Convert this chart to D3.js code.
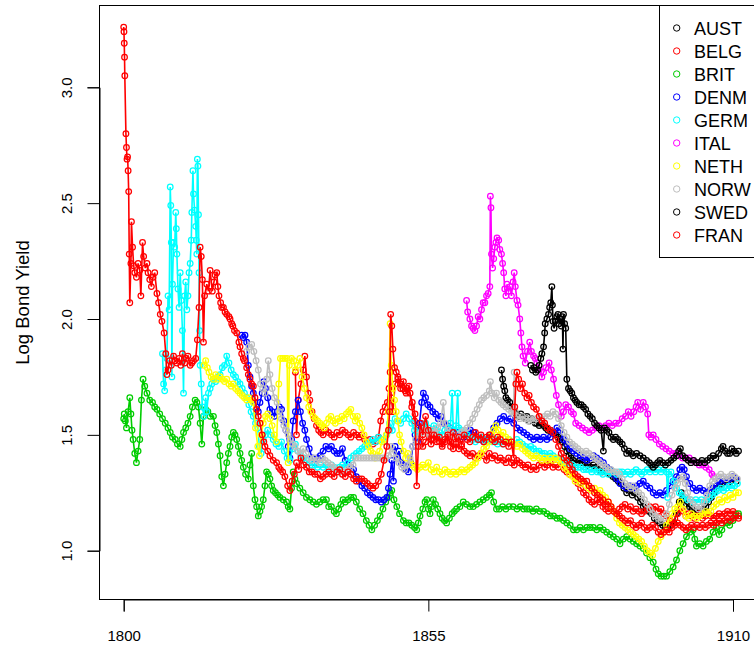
<!DOCTYPE html>
<html><head><meta charset="utf-8">
<script src="https://cdn.jsdelivr.net/npm/d3@7"></script>
<style>body{margin:0;background:#fff;} svg{display:block;font-family:"Liberation Sans",Arial,Helvetica,sans-serif;}</style>
</head><body><svg id="chart" width="754" height="645"></svg>
<script>
// ---- data: [year, log bond yield] ----
const AUST=[[1868.2,1.78],[1868.4,1.74],[1868.6,1.71],[1868.8,1.69],[1869.0,1.66],[1869.3,1.65],[1869.7,1.64],[1870.0,1.62],[1870.3,1.61],[1870.6,1.60],[1870.9,1.59],[1871.3,1.58],[1871.7,1.59],[1872.1,1.58],[1872.5,1.57],[1872.8,1.58],[1873.2,1.56],[1873.6,1.57],[1874.0,1.56],[1874.3,1.55],[1874.6,1.55],[1875.0,1.54],[1875.4,1.55],[1875.8,1.54],[1876.2,1.53],[1876.6,1.52],[1877.0,1.52],[1877.3,1.51],[1877.6,1.51],[1878.0,1.50],[1878.4,1.49],[1878.8,1.48],[1879.2,1.47],[1879.6,1.45],[1880.0,1.43],[1880.4,1.41],[1880.8,1.40],[1881.2,1.39],[1881.8,1.38],[1882.3,1.39],[1882.8,1.38],[1883.3,1.38],[1883.8,1.37],[1884.3,1.36],[1884.8,1.37],[1885.3,1.36],[1885.8,1.35],[1886.3,1.34],[1886.8,1.35],[1887.3,1.34],[1887.8,1.33],[1888.3,1.32],[1888.8,1.31],[1889.3,1.30],[1889.8,1.29],[1890.3,1.27],[1890.8,1.25],[1891.3,1.26],[1891.8,1.24],[1892.3,1.25],[1892.8,1.23],[1893.3,1.21],[1893.8,1.19],[1894.3,1.18],[1894.8,1.17],[1895.3,1.16],[1895.8,1.14],[1896.3,1.13],[1896.8,1.12],[1897.3,1.11],[1897.8,1.10],[1898.3,1.10],[1898.8,1.11],[1899.3,1.12],[1899.8,1.16],[1900.3,1.21],[1900.7,1.25],[1901.1,1.22],[1901.6,1.20],[1902.1,1.19],[1902.6,1.18],[1903.1,1.17],[1903.6,1.16],[1904.1,1.17],[1904.6,1.18],[1905.1,1.19],[1905.6,1.21],[1906.1,1.23],[1906.6,1.25],[1907.1,1.27],[1907.6,1.28],[1908.1,1.29],[1908.6,1.30],[1909.1,1.29],[1909.6,1.30],[1910.1,1.31],[1910.6,1.30]];
const BELG=[[1831.0,1.77],[1831.2,1.50],[1831.5,1.65],[1832.0,1.72],[1832.4,1.78],[1832.7,1.84],[1833.0,1.75],[1833.3,1.68],[1833.6,1.65],[1834.0,1.60],[1834.4,1.57],[1834.8,1.54],[1835.2,1.52],[1835.6,1.51],[1836.0,1.50],[1836.5,1.52],[1837.0,1.51],[1837.5,1.50],[1838.0,1.49],[1838.5,1.51],[1839.0,1.50],[1839.5,1.52],[1840.0,1.51],[1840.5,1.50],[1841.0,1.49],[1841.5,1.51],[1842.0,1.50],[1842.5,1.49],[1843.0,1.50],[1843.5,1.48],[1844.0,1.47],[1844.5,1.48],[1845.0,1.46],[1845.5,1.47],[1846.0,1.49],[1846.4,1.56],[1846.8,1.60],[1847.2,1.62],[1847.6,1.64],[1847.9,1.70],[1848.1,1.77],[1848.3,1.66],[1848.6,1.60],[1849.0,1.72],[1849.5,1.74],[1850.0,1.70],[1850.5,1.73],[1851.0,1.68],[1851.5,1.71],[1852.0,1.62],[1852.5,1.56],[1853.0,1.52],[1853.5,1.49],[1854.0,1.45],[1854.5,1.47],[1855.0,1.50],[1855.5,1.46],[1856.0,1.48],[1856.5,1.50],[1857.0,1.47],[1857.5,1.45],[1858.0,1.47],[1858.5,1.49],[1859.0,1.47],[1859.5,1.44],[1860.0,1.46],[1860.5,1.44],[1861.0,1.45],[1861.5,1.43],[1862.0,1.42],[1862.5,1.41],[1863.0,1.42],[1863.5,1.40],[1864.0,1.41],[1864.5,1.42],[1865.0,1.41],[1865.5,1.39],[1866.0,1.42],[1866.5,1.40],[1867.0,1.41],[1867.5,1.39],[1868.0,1.40],[1868.5,1.39],[1869.0,1.38],[1869.5,1.40],[1870.0,1.38],[1870.5,1.37],[1871.0,1.39],[1871.5,1.38],[1872.0,1.37],[1872.5,1.36],[1873.0,1.37],[1873.5,1.35],[1874.0,1.36],[1874.5,1.35],[1875.0,1.37],[1875.5,1.38],[1876.0,1.36],[1876.5,1.37],[1877.0,1.38],[1877.5,1.36],[1878.0,1.37],[1878.5,1.36],[1879.0,1.38],[1879.5,1.35],[1880.0,1.34],[1880.5,1.33],[1881.0,1.34],[1881.5,1.31],[1882.0,1.29],[1882.5,1.27],[1883.0,1.25],[1883.5,1.24],[1884.0,1.22],[1884.5,1.21],[1885.0,1.20],[1885.5,1.22],[1886.0,1.21],[1886.5,1.19],[1887.0,1.18],[1887.5,1.17],[1888.0,1.18],[1888.5,1.17],[1889.0,1.16],[1889.5,1.18],[1890.0,1.19],[1890.5,1.20],[1891.0,1.18],[1891.5,1.19],[1892.0,1.17],[1892.5,1.18],[1893.0,1.17],[1893.5,1.16],[1894.0,1.17],[1894.5,1.18],[1895.0,1.19],[1895.5,1.18],[1896.0,1.19],[1896.5,1.17],[1897.0,1.18],[1897.5,1.16],[1898.0,1.15],[1898.5,1.13],[1899.0,1.12],[1899.5,1.14],[1900.0,1.16],[1900.5,1.18],[1901.0,1.17],[1901.5,1.15],[1902.0,1.16],[1902.5,1.15],[1903.0,1.14],[1903.5,1.15],[1904.0,1.16],[1904.5,1.14],[1905.0,1.15],[1905.5,1.16],[1906.0,1.15],[1906.5,1.14],[1907.0,1.15],[1907.5,1.16],[1908.0,1.15],[1908.5,1.16],[1909.0,1.17],[1909.5,1.16],[1910.0,1.17],[1910.5,1.16],[1911.0,1.15]];
const BRIT=[[1800.0,1.57],[1800.1,1.59],[1800.3,1.56],[1800.5,1.53],[1800.8,1.60],[1801.1,1.66],[1801.3,1.59],[1801.5,1.52],[1801.7,1.48],[1802.0,1.42],[1802.3,1.38],[1802.6,1.43],[1802.9,1.48],[1803.2,1.65],[1803.5,1.74],[1803.8,1.71],[1804.2,1.68],[1804.7,1.65],[1805.2,1.64],[1805.6,1.62],[1806.0,1.61],[1806.5,1.59],[1807.0,1.57],[1807.5,1.55],[1808.0,1.53],[1808.4,1.51],[1808.8,1.49],[1809.3,1.48],[1809.7,1.46],[1810.2,1.45],[1810.5,1.48],[1810.8,1.51],[1811.2,1.53],[1811.6,1.55],[1812.0,1.58],[1812.4,1.62],[1812.9,1.65],[1813.2,1.64],[1813.5,1.62],[1813.8,1.55],[1814.1,1.46],[1814.4,1.58],[1814.8,1.61],[1815.2,1.60],[1815.6,1.58],[1816.2,1.58],[1816.5,1.54],[1816.8,1.51],[1817.1,1.46],[1817.4,1.41],[1817.7,1.32],[1818.0,1.28],[1818.3,1.33],[1818.6,1.38],[1818.9,1.42],[1819.2,1.45],[1819.5,1.49],[1819.8,1.51],[1820.1,1.50],[1820.4,1.48],[1820.7,1.45],[1821.0,1.42],[1821.3,1.39],[1821.6,1.36],[1822.0,1.33],[1822.5,1.31],[1822.8,1.37],[1823.1,1.42],[1823.4,1.28],[1823.7,1.22],[1824.0,1.19],[1824.3,1.15],[1824.6,1.17],[1824.9,1.19],[1825.2,1.22],[1825.5,1.28],[1825.8,1.34],[1826.1,1.33],[1826.4,1.31],[1826.7,1.28],[1827.0,1.26],[1827.4,1.25],[1827.8,1.24],[1828.2,1.23],[1828.8,1.22],[1829.4,1.21],[1829.7,1.19],[1830.0,1.18],[1830.3,1.27],[1830.6,1.34],[1830.9,1.31],[1831.2,1.29],[1831.8,1.27],[1832.4,1.25],[1833.0,1.23],[1833.6,1.22],[1834.2,1.21],[1834.8,1.20],[1835.4,1.21],[1836.0,1.22],[1836.6,1.22],[1837.0,1.19],[1837.5,1.19],[1838.0,1.17],[1838.4,1.16],[1838.8,1.18],[1839.2,1.20],[1839.6,1.22],[1840.0,1.21],[1840.5,1.22],[1841.0,1.23],[1841.5,1.23],[1842.0,1.21],[1842.6,1.18],[1843.2,1.16],[1843.8,1.13],[1844.3,1.11],[1844.8,1.09],[1845.3,1.11],[1845.8,1.13],[1846.3,1.15],[1846.8,1.18],[1847.3,1.21],[1847.8,1.23],[1848.1,1.25],[1848.4,1.26],[1848.8,1.22],[1849.3,1.19],[1849.8,1.16],[1850.5,1.13],[1851.0,1.12],[1851.5,1.12],[1852.0,1.11],[1852.5,1.10],[1852.9,1.09],[1853.2,1.12],[1853.5,1.15],[1854.0,1.18],[1854.4,1.21],[1854.7,1.22],[1855.0,1.18],[1855.3,1.16],[1855.6,1.19],[1855.9,1.22],[1856.3,1.20],[1856.7,1.18],[1857.1,1.16],[1857.5,1.14],[1857.9,1.13],[1858.3,1.12],[1858.8,1.14],[1859.3,1.16],[1859.7,1.17],[1860.1,1.18],[1860.7,1.19],[1861.3,1.21],[1861.9,1.20],[1862.5,1.19],[1863.1,1.19],[1863.7,1.20],[1864.3,1.21],[1864.9,1.22],[1865.5,1.23],[1866.0,1.24],[1866.4,1.25],[1866.8,1.21],[1867.3,1.18],[1867.8,1.18],[1868.4,1.19],[1869.0,1.18],[1869.6,1.19],[1870.3,1.19],[1871.0,1.18],[1871.6,1.19],[1872.2,1.18],[1872.8,1.18],[1873.3,1.18],[1873.9,1.17],[1874.5,1.18],[1875.1,1.17],[1875.8,1.17],[1876.4,1.16],[1877.0,1.15],[1877.6,1.15],[1878.2,1.14],[1878.8,1.14],[1879.4,1.13],[1880.0,1.12],[1880.6,1.11],[1881.2,1.09],[1881.8,1.09],[1882.4,1.10],[1883.0,1.09],[1883.6,1.10],[1884.2,1.10],[1884.8,1.10],[1885.4,1.09],[1886.0,1.10],[1886.6,1.09],[1887.2,1.08],[1887.8,1.07],[1888.4,1.06],[1889.0,1.05],[1889.6,1.03],[1890.2,1.05],[1890.8,1.06],[1891.4,1.05],[1892.0,1.04],[1892.6,1.03],[1893.2,1.02],[1893.8,1.01],[1894.4,0.99],[1895.0,0.97],[1895.6,0.95],[1896.1,0.92],[1896.5,0.90],[1897.0,0.89],[1897.5,0.89],[1898.0,0.89],[1898.6,0.91],[1899.2,0.93],[1899.8,0.96],[1900.4,1.00],[1901.0,1.03],[1901.6,1.06],[1902.2,1.08],[1902.8,1.09],[1903.1,1.05],[1903.4,1.02],[1904.0,1.03],[1904.6,1.02],[1905.2,1.04],[1905.8,1.05],[1906.4,1.08],[1907.0,1.10],[1907.5,1.07],[1908.0,1.09],[1908.8,1.12],[1909.4,1.11],[1910.0,1.13],[1910.5,1.15],[1911.0,1.16]];
const DENM=[[1821.3,1.93],[1821.6,1.92],[1821.9,1.93],[1822.2,1.90],[1822.5,1.80],[1822.8,1.75],[1823.1,1.71],[1823.4,1.68],[1823.7,1.64],[1824.0,1.62],[1824.3,1.60],[1824.6,1.64],[1825.0,1.68],[1825.3,1.73],[1825.6,1.70],[1826.0,1.66],[1826.4,1.61],[1826.8,1.60],[1827.2,1.58],[1827.7,1.60],[1828.1,1.62],[1828.5,1.61],[1828.9,1.56],[1829.3,1.52],[1829.7,1.45],[1830.0,1.40],[1830.3,1.48],[1830.6,1.56],[1831.0,1.60],[1831.5,1.65],[1831.9,1.60],[1832.3,1.55],[1832.7,1.52],[1833.0,1.48],[1833.5,1.44],[1834.0,1.40],[1834.5,1.38],[1835.0,1.40],[1835.5,1.41],[1836.0,1.43],[1836.5,1.45],[1837.0,1.44],[1837.5,1.45],[1838.0,1.43],[1838.5,1.42],[1839.0,1.42],[1839.5,1.44],[1840.0,1.39],[1840.5,1.37],[1841.0,1.36],[1841.5,1.35],[1842.0,1.32],[1842.5,1.30],[1843.0,1.28],[1843.5,1.27],[1844.0,1.25],[1844.5,1.24],[1845.0,1.23],[1845.5,1.22],[1846.0,1.22],[1846.5,1.21],[1847.0,1.22],[1847.5,1.23],[1847.8,1.27],[1848.1,1.33],[1848.4,1.39],[1848.7,1.30],[1849.0,1.45],[1849.3,1.40],[1849.7,1.43],[1850.1,1.38],[1850.5,1.37],[1851.0,1.35],[1851.4,1.34],[1851.8,1.38],[1852.2,1.45],[1852.6,1.50],[1853.0,1.47],[1853.4,1.55],[1853.8,1.64],[1854.1,1.68],[1854.5,1.66],[1854.9,1.63],[1855.3,1.62],[1855.8,1.60],[1856.3,1.59],[1856.8,1.57],[1857.3,1.58],[1857.8,1.55],[1858.4,1.54],[1859.0,1.53],[1859.6,1.52],[1860.2,1.51],[1860.8,1.50],[1861.4,1.49],[1862.0,1.50],[1862.6,1.52],[1863.2,1.51],[1863.8,1.49],[1864.4,1.48],[1865.0,1.47],[1865.6,1.48],[1866.2,1.50],[1866.8,1.53],[1867.4,1.55],[1868.0,1.57],[1868.6,1.58],[1869.2,1.56],[1869.8,1.57],[1870.4,1.55],[1871.0,1.53],[1871.6,1.52],[1872.2,1.51],[1872.8,1.50],[1873.4,1.49],[1874.0,1.48],[1874.6,1.49],[1875.2,1.48],[1875.8,1.49],[1876.4,1.48],[1877.0,1.49],[1877.6,1.51],[1878.2,1.53],[1878.8,1.52],[1879.4,1.48],[1880.0,1.46],[1880.6,1.44],[1881.2,1.43],[1881.8,1.42],[1882.4,1.41],[1883.0,1.40],[1883.6,1.39],[1884.2,1.40],[1884.8,1.41],[1885.4,1.40],[1886.0,1.39],[1886.6,1.38],[1887.2,1.36],[1887.8,1.35],[1888.4,1.33],[1889.0,1.31],[1889.6,1.29],[1890.2,1.28],[1890.8,1.27],[1891.4,1.28],[1892.0,1.27],[1892.6,1.28],[1893.2,1.29],[1893.8,1.30],[1894.4,1.28],[1895.0,1.27],[1895.6,1.25],[1896.2,1.24],[1896.8,1.25],[1897.4,1.24],[1898.0,1.26],[1898.6,1.28],[1899.2,1.30],[1899.8,1.32],[1900.4,1.35],[1900.8,1.36],[1901.2,1.35],[1901.6,1.32],[1902.2,1.29],[1902.8,1.27],[1903.4,1.26],[1904.0,1.27],[1904.6,1.26],[1905.2,1.25],[1905.8,1.26],[1906.4,1.27],[1907.0,1.28],[1907.6,1.30],[1908.2,1.31],[1908.8,1.30],[1909.4,1.31],[1910.0,1.32],[1910.6,1.31]];
const GERM=[[1807.0,1.85],[1807.2,1.72],[1807.4,1.69],[1807.6,1.78],[1807.8,1.83],[1808.0,2.10],[1808.2,2.04],[1808.4,2.57],[1808.5,2.49],[1808.6,2.33],[1808.7,1.75],[1808.8,2.15],[1809.0,2.33],[1809.2,2.31],[1809.4,2.46],[1809.5,2.39],[1809.6,2.28],[1809.8,2.13],[1810.0,2.05],[1810.2,2.20],[1810.4,2.08],[1810.6,1.95],[1810.8,1.68],[1811.0,2.10],[1811.2,2.16],[1811.4,2.04],[1811.6,2.10],[1811.8,2.20],[1812.0,2.24],[1812.2,2.34],[1812.3,2.46],[1812.5,2.64],[1812.6,2.54],[1812.8,2.47],[1813.0,2.40],[1813.1,2.34],[1813.2,2.28],[1813.3,2.69],[1813.4,2.66],[1813.5,2.45],[1813.6,2.20],[1813.7,1.95],[1813.8,1.80],[1814.0,1.72],[1814.2,1.62],[1814.5,1.58],[1814.8,1.66],[1815.0,1.60],[1815.3,1.68],[1815.6,1.70],[1815.9,1.72],[1816.2,1.74],[1816.6,1.73],[1817.0,1.75],[1817.4,1.76],[1817.8,1.79],[1818.2,1.80],[1818.6,1.84],[1819.0,1.81],[1819.4,1.78],[1819.8,1.76],[1820.2,1.75],[1820.6,1.73],[1821.0,1.72],[1821.4,1.70],[1821.8,1.68],[1822.2,1.66],[1822.6,1.63],[1823.0,1.60],[1823.4,1.58],[1823.8,1.55],[1824.2,1.53],[1824.5,1.45],[1824.8,1.42],[1825.2,1.48],[1825.6,1.50],[1826.0,1.52],[1826.5,1.50],[1827.0,1.48],[1827.5,1.46],[1828.0,1.45],[1828.5,1.47],[1829.0,1.43],[1829.5,1.40],[1830.0,1.39],[1830.5,1.44],[1831.0,1.46],[1831.5,1.43],[1832.0,1.41],[1832.5,1.40],[1833.0,1.39],[1833.5,1.38],[1834.0,1.37],[1834.5,1.37],[1835.0,1.36],[1835.5,1.37],[1836.0,1.36],[1836.5,1.37],[1837.0,1.36],[1837.5,1.37],[1838.0,1.36],[1838.5,1.35],[1839.0,1.36],[1839.5,1.37],[1840.0,1.36],[1840.5,1.38],[1841.0,1.40],[1841.5,1.41],[1842.0,1.42],[1842.5,1.43],[1843.0,1.44],[1843.5,1.45],[1844.0,1.46],[1844.5,1.47],[1845.0,1.48],[1845.5,1.47],[1846.0,1.49],[1846.5,1.48],[1847.0,1.47],[1847.5,1.50],[1848.0,1.55],[1848.5,1.52],[1849.0,1.57],[1849.5,1.56],[1850.0,1.55],[1850.5,1.57],[1851.0,1.59],[1851.5,1.57],[1852.0,1.55],[1852.5,1.52],[1853.0,1.50],[1853.5,1.51],[1854.0,1.53],[1854.5,1.55],[1855.0,1.53],[1855.5,1.52],[1856.0,1.54],[1856.5,1.52],[1857.0,1.51],[1857.5,1.50],[1858.0,1.52],[1858.5,1.53],[1859.0,1.55],[1859.3,1.68],[1859.5,1.52],[1860.0,1.54],[1860.3,1.68],[1860.5,1.53],[1861.0,1.52],[1861.5,1.51],[1862.0,1.50],[1862.5,1.49],[1863.0,1.48],[1863.5,1.47],[1864.0,1.48],[1864.5,1.49],[1865.0,1.48],[1865.5,1.47],[1866.0,1.48],[1866.5,1.47],[1867.0,1.48],[1867.5,1.46],[1868.0,1.47],[1868.5,1.46],[1869.0,1.47],[1869.5,1.48],[1870.0,1.47],[1870.5,1.46],[1871.0,1.48],[1871.5,1.47],[1872.0,1.46],[1872.5,1.45],[1873.0,1.44],[1873.5,1.45],[1874.0,1.44],[1874.5,1.43],[1875.0,1.43],[1875.5,1.42],[1876.0,1.42],[1876.5,1.41],[1877.0,1.42],[1877.5,1.41],[1878.0,1.40],[1878.5,1.40],[1879.0,1.39],[1879.5,1.38],[1880.0,1.38],[1880.5,1.37],[1881.0,1.37],[1881.5,1.36],[1882.0,1.36],[1882.5,1.36],[1883.0,1.35],[1883.5,1.35],[1884.0,1.35],[1884.5,1.34],[1885.0,1.35],[1885.5,1.34],[1886.0,1.34],[1886.5,1.33],[1887.0,1.34],[1887.5,1.33],[1888.0,1.34],[1888.5,1.34],[1889.0,1.33],[1889.5,1.34],[1890.0,1.34],[1890.5,1.33],[1891.0,1.34],[1891.5,1.33],[1892.0,1.34],[1892.5,1.35],[1893.0,1.34],[1893.5,1.33],[1894.0,1.34],[1894.5,1.35],[1895.0,1.34],[1895.5,1.35],[1896.0,1.34],[1896.5,1.35],[1897.0,1.34],[1897.5,1.35],[1898.0,1.34],[1898.2,1.23],[1898.4,1.33],[1898.8,1.34],[1899.3,1.30],[1899.8,1.27],[1900.3,1.25],[1900.8,1.24],[1901.3,1.23],[1901.8,1.22],[1902.3,1.22],[1902.8,1.21],[1903.3,1.22],[1903.8,1.21],[1904.3,1.22],[1904.8,1.21],[1905.3,1.22],[1905.8,1.23],[1906.3,1.24],[1906.8,1.25],[1907.3,1.26],[1907.8,1.27],[1908.3,1.26],[1908.8,1.27],[1909.3,1.28],[1909.8,1.27],[1910.3,1.28],[1910.8,1.29]];
const ITAL=[[1861.9,2.08],[1862.1,2.03],[1862.5,2.00],[1862.8,1.97],[1863.1,1.96],[1863.4,1.95],[1863.7,1.97],[1864.0,2.01],[1864.3,2.00],[1864.6,2.04],[1864.9,2.07],[1865.2,2.07],[1865.5,2.10],[1865.8,2.11],[1866.1,2.14],[1866.2,2.53],[1866.3,2.48],[1866.4,2.28],[1866.6,2.22],[1866.8,2.26],[1867.0,2.31],[1867.2,2.33],[1867.4,2.35],[1867.7,2.34],[1867.9,2.30],[1868.2,2.28],[1868.4,2.24],[1868.6,2.20],[1868.8,2.13],[1869.0,2.10],[1869.2,2.15],[1869.5,2.12],[1869.8,2.14],[1870.0,2.10],[1870.3,2.16],[1870.5,2.20],[1870.7,2.14],[1871.0,2.08],[1871.2,2.06],[1871.5,2.00],[1871.7,1.94],[1871.9,1.88],[1872.1,1.84],[1872.5,1.81],[1872.9,1.86],[1873.3,1.90],[1873.6,1.86],[1874.0,1.84],[1874.3,1.83],[1874.6,1.81],[1875.0,1.78],[1875.5,1.75],[1875.8,1.77],[1876.2,1.79],[1876.8,1.81],[1877.2,1.78],[1877.6,1.74],[1878.1,1.67],[1878.5,1.63],[1879.0,1.58],[1879.4,1.60],[1879.8,1.63],[1880.3,1.62],[1880.8,1.60],[1881.2,1.59],[1881.6,1.55],[1882.2,1.54],[1882.8,1.53],[1883.4,1.52],[1884.0,1.51],[1884.6,1.52],[1885.2,1.53],[1885.8,1.54],[1886.4,1.53],[1887.0,1.54],[1887.6,1.55],[1888.2,1.54],[1888.8,1.55],[1889.4,1.55],[1890.0,1.57],[1890.6,1.58],[1891.1,1.60],[1891.6,1.58],[1892.1,1.60],[1892.5,1.62],[1892.8,1.64],[1893.3,1.61],[1893.8,1.64],[1894.2,1.62],[1894.6,1.59],[1894.8,1.50],[1895.2,1.49],[1895.6,1.50],[1896.1,1.48],[1896.7,1.46],[1897.3,1.45],[1897.9,1.44],[1898.5,1.43],[1899.1,1.42],[1899.7,1.42],[1900.3,1.41],[1900.9,1.40],[1901.5,1.40],[1902.1,1.40],[1902.7,1.39],[1903.3,1.38],[1903.9,1.37],[1904.5,1.37],[1905.1,1.36],[1905.7,1.35],[1906.2,1.33],[1906.5,1.32]];
const NETH=[[1814.5,1.80],[1814.8,1.82],[1815.1,1.79],[1815.4,1.77],[1815.8,1.75],[1816.2,1.74],[1816.6,1.76],[1817.0,1.74],[1817.4,1.75],[1817.8,1.74],[1818.2,1.73],[1818.6,1.74],[1819.0,1.72],[1819.4,1.71],[1819.8,1.72],[1820.2,1.70],[1820.6,1.69],[1821.0,1.68],[1821.4,1.67],[1821.8,1.66],[1822.2,1.65],[1822.6,1.66],[1823.0,1.65],[1823.4,1.64],[1823.8,1.53],[1824.2,1.45],[1824.5,1.41],[1824.8,1.50],[1825.2,1.55],[1825.6,1.58],[1826.0,1.59],[1826.4,1.57],[1826.8,1.54],[1827.2,1.50],[1827.6,1.47],[1828.0,1.72],[1828.3,1.83],[1828.7,1.83],[1829.1,1.83],[1829.5,1.83],[1829.7,1.38],[1829.9,1.80],[1830.3,1.83],[1830.7,1.82],[1831.0,1.78],[1831.4,1.80],[1831.8,1.83],[1832.2,1.75],[1832.6,1.70],[1833.0,1.66],[1833.4,1.62],[1833.8,1.60],[1834.2,1.58],[1834.6,1.57],[1835.0,1.56],[1835.4,1.55],[1835.8,1.54],[1836.2,1.53],[1836.6,1.55],[1837.0,1.57],[1837.4,1.58],[1837.8,1.56],[1838.2,1.55],[1838.6,1.57],[1839.0,1.56],[1839.4,1.58],[1839.8,1.57],[1840.2,1.59],[1840.6,1.60],[1841.0,1.61],[1841.4,1.58],[1841.8,1.56],[1842.2,1.58],[1842.6,1.55],[1843.0,1.53],[1843.4,1.50],[1843.8,1.47],[1844.2,1.45],[1844.6,1.43],[1845.0,1.42],[1845.4,1.40],[1845.8,1.41],[1846.2,1.43],[1846.6,1.47],[1847.0,1.48],[1847.4,1.50],[1847.8,1.60],[1848.1,1.98],[1848.3,1.80],[1848.6,1.70],[1848.9,1.65],[1849.2,1.60],[1849.5,1.56],[1849.8,1.50],[1850.1,1.47],[1850.5,1.43],[1850.9,1.40],[1851.3,1.42],[1851.7,1.39],[1852.1,1.37],[1852.5,1.36],[1853.0,1.35],[1853.5,1.36],[1854.0,1.37],[1854.5,1.36],[1855.0,1.38],[1855.5,1.35],[1856.0,1.34],[1856.5,1.36],[1857.0,1.34],[1857.5,1.33],[1858.0,1.35],[1858.5,1.34],[1859.0,1.33],[1859.5,1.34],[1860.0,1.33],[1860.5,1.34],[1861.0,1.35],[1861.5,1.34],[1862.0,1.35],[1862.5,1.36],[1863.0,1.37],[1863.5,1.38],[1864.0,1.40],[1864.5,1.42],[1865.0,1.44],[1865.5,1.45],[1866.0,1.47],[1866.4,1.50],[1866.8,1.52],[1867.2,1.54],[1867.6,1.52],[1868.0,1.50],[1868.5,1.51],[1869.0,1.49],[1869.5,1.48],[1870.0,1.47],[1870.5,1.46],[1871.0,1.45],[1871.5,1.46],[1872.0,1.44],[1872.5,1.43],[1873.0,1.42],[1873.5,1.41],[1874.0,1.40],[1874.5,1.41],[1875.0,1.40],[1875.5,1.39],[1876.0,1.40],[1876.5,1.39],[1877.0,1.40],[1877.5,1.39],[1878.0,1.40],[1878.5,1.39],[1879.0,1.38],[1879.5,1.36],[1880.0,1.35],[1880.5,1.33],[1881.0,1.32],[1881.5,1.30],[1882.0,1.31],[1882.5,1.29],[1883.0,1.30],[1883.5,1.28],[1884.0,1.27],[1884.5,1.26],[1885.0,1.27],[1885.5,1.25],[1886.0,1.26],[1886.5,1.24],[1887.0,1.23],[1887.5,1.21],[1888.0,1.19],[1888.5,1.17],[1889.0,1.14],[1889.5,1.12],[1890.0,1.11],[1890.5,1.10],[1891.0,1.09],[1891.5,1.08],[1892.0,1.07],[1892.5,1.06],[1893.0,1.05],[1893.5,1.04],[1894.0,1.02],[1894.5,1.00],[1895.0,0.99],[1895.5,0.98],[1896.0,1.01],[1896.5,1.04],[1897.0,1.06],[1897.5,1.08],[1898.0,1.11],[1898.5,1.14],[1899.0,1.16],[1899.5,1.18],[1900.0,1.19],[1900.5,1.21],[1901.0,1.18],[1901.5,1.15],[1902.0,1.14],[1902.5,1.16],[1903.0,1.15],[1903.5,1.14],[1904.0,1.15],[1904.5,1.16],[1905.0,1.17],[1905.5,1.16],[1906.0,1.17],[1906.5,1.19],[1907.0,1.20],[1907.5,1.22],[1908.0,1.21],[1908.5,1.23],[1909.0,1.22],[1909.5,1.24],[1910.0,1.23],[1910.5,1.25],[1911.0,1.25]];
const NORW=[[1822.2,1.86],[1822.6,1.88],[1823.1,1.89],[1823.5,1.86],[1823.9,1.82],[1824.3,1.78],[1824.7,1.72],[1825.1,1.70],[1825.5,1.68],[1825.8,1.74],[1826.1,1.82],[1826.4,1.76],[1826.8,1.70],[1827.2,1.66],[1827.7,1.64],[1828.1,1.60],[1828.5,1.57],[1828.9,1.54],[1829.3,1.52],[1829.7,1.50],[1830.1,1.48],[1830.5,1.46],[1830.9,1.45],[1831.4,1.43],[1831.9,1.42],[1832.4,1.44],[1832.9,1.42],[1833.4,1.40],[1833.9,1.39],[1834.4,1.40],[1834.9,1.39],[1835.4,1.38],[1835.9,1.40],[1836.4,1.39],[1836.9,1.38],[1837.4,1.37],[1837.9,1.36],[1838.4,1.35],[1838.9,1.34],[1839.4,1.33],[1839.9,1.34],[1840.4,1.35],[1840.9,1.36],[1841.4,1.37],[1841.8,1.40],[1842.3,1.40],[1842.8,1.40],[1843.3,1.40],[1843.8,1.40],[1844.3,1.40],[1844.8,1.40],[1845.3,1.40],[1845.8,1.40],[1846.3,1.40],[1846.8,1.40],[1847.3,1.40],[1847.8,1.41],[1848.3,1.45],[1848.7,1.42],[1849.2,1.40],[1849.7,1.38],[1850.2,1.36],[1850.7,1.35],[1851.2,1.37],[1851.7,1.40],[1852.2,1.45],[1852.7,1.48],[1853.2,1.50],[1853.7,1.51],[1854.2,1.52],[1854.7,1.51],[1855.2,1.50],[1855.7,1.52],[1856.2,1.51],[1856.7,1.53],[1857.2,1.55],[1857.7,1.64],[1858.0,1.55],[1858.5,1.52],[1859.0,1.51],[1859.5,1.50],[1860.0,1.49],[1860.5,1.50],[1861.0,1.51],[1861.5,1.52],[1862.0,1.53],[1862.5,1.55],[1863.0,1.57],[1863.4,1.59],[1863.8,1.61],[1864.2,1.63],[1864.6,1.65],[1865.0,1.66],[1865.5,1.67],[1866.0,1.69],[1866.2,1.73],[1866.5,1.68],[1866.9,1.66],[1867.3,1.68],[1867.7,1.65],[1868.1,1.64],[1868.5,1.63],[1869.0,1.62],[1869.5,1.61],[1870.0,1.60],[1870.4,1.59],[1870.5,1.77],[1870.7,1.60],[1871.0,1.58],[1871.5,1.57],[1872.0,1.58],[1872.5,1.57],[1873.0,1.56],[1873.5,1.57],[1874.0,1.56],[1874.5,1.57],[1875.0,1.58],[1875.5,1.57],[1876.0,1.58],[1876.5,1.59],[1877.0,1.58],[1877.5,1.60],[1878.0,1.59],[1878.5,1.57],[1879.0,1.54],[1879.5,1.51],[1880.0,1.49],[1880.5,1.47],[1881.0,1.46],[1881.5,1.45],[1882.0,1.44],[1882.5,1.43],[1883.0,1.42],[1883.5,1.43],[1884.0,1.42],[1884.5,1.41],[1885.0,1.40],[1885.5,1.39],[1886.0,1.38],[1886.5,1.37],[1887.0,1.36],[1887.5,1.35],[1888.0,1.35],[1888.5,1.34],[1889.0,1.34],[1889.5,1.33],[1890.0,1.31],[1890.5,1.29],[1891.0,1.28],[1891.5,1.27],[1892.0,1.28],[1892.5,1.26],[1893.0,1.25],[1893.5,1.24],[1894.0,1.22],[1894.5,1.20],[1895.0,1.18],[1895.5,1.16],[1896.0,1.15],[1896.5,1.14],[1897.0,1.13],[1897.5,1.14],[1898.0,1.16],[1898.5,1.20],[1899.0,1.24],[1899.5,1.27],[1900.0,1.29],[1900.5,1.31],[1901.0,1.32],[1901.4,1.29],[1901.8,1.25],[1902.3,1.22],[1902.8,1.20],[1903.3,1.19],[1903.8,1.18],[1904.3,1.19],[1904.8,1.21],[1905.3,1.24],[1905.8,1.28],[1906.3,1.30],[1906.8,1.31],[1907.3,1.32],[1907.8,1.33],[1908.3,1.32],[1908.8,1.31],[1909.3,1.32],[1909.8,1.33],[1910.3,1.32],[1910.8,1.31]];
const SWED=[[1873.5,1.80],[1873.8,1.78],[1874.1,1.79],[1874.4,1.77],[1874.7,1.78],[1875.0,1.80],[1875.3,1.83],[1875.5,1.85],[1875.8,1.88],[1876.0,1.94],[1876.1,1.98],[1876.4,2.00],[1876.7,2.02],[1876.9,2.05],[1877.1,2.07],[1877.3,2.14],[1877.4,2.06],[1877.5,1.99],[1877.7,1.96],[1877.9,1.99],[1878.2,2.01],[1878.4,2.02],[1878.6,1.98],[1878.8,2.00],[1879.0,1.97],[1879.2,2.01],[1879.3,1.87],[1879.4,2.02],[1879.6,1.98],[1879.8,1.96],[1880.0,1.74],[1880.3,1.70],[1880.6,1.69],[1880.9,1.68],[1881.2,1.66],[1881.5,1.65],[1881.8,1.64],[1882.2,1.63],[1882.6,1.63],[1883.0,1.62],[1883.4,1.61],[1883.8,1.59],[1884.2,1.58],[1884.6,1.57],[1885.0,1.55],[1885.4,1.54],[1885.8,1.53],[1886.2,1.52],[1886.6,1.43],[1886.8,1.53],[1887.2,1.52],[1887.6,1.51],[1888.0,1.49],[1888.4,1.48],[1888.8,1.49],[1889.2,1.48],[1889.6,1.47],[1890.0,1.46],[1890.4,1.44],[1890.8,1.42],[1891.2,1.43],[1891.6,1.42],[1892.0,1.41],[1892.6,1.42],[1893.2,1.41],[1893.8,1.40],[1894.4,1.39],[1894.9,1.38],[1895.3,1.37],[1895.6,1.36],[1896.0,1.37],[1896.4,1.38],[1896.8,1.39],[1897.3,1.38],[1897.8,1.37],[1898.3,1.38],[1898.8,1.39],[1899.3,1.40],[1899.8,1.41],[1900.2,1.43],[1900.5,1.44],[1900.9,1.41],[1901.4,1.40],[1901.9,1.39],[1902.4,1.38],[1902.9,1.39],[1903.4,1.38],[1903.9,1.38],[1904.4,1.39],[1904.9,1.38],[1905.4,1.39],[1905.9,1.40],[1906.4,1.41],[1906.9,1.40],[1907.4,1.42],[1907.9,1.44],[1908.2,1.45],[1908.6,1.43],[1909.0,1.42],[1909.4,1.42],[1909.8,1.44],[1910.2,1.43],[1910.6,1.42],[1911.0,1.43]];
const FRAN=[[1800.0,3.26],[1800.05,3.24],[1800.1,3.19],[1800.15,3.13],[1800.2,3.05],[1800.4,2.80],[1800.5,2.74],[1800.6,2.69],[1800.7,2.70],[1800.8,2.64],[1800.9,2.55],[1801.0,2.28],[1801.1,2.07],[1801.3,2.24],[1801.4,2.42],[1801.6,2.31],[1801.8,2.23],[1802.0,2.20],[1802.3,2.18],[1802.6,2.24],[1802.9,2.21],[1803.1,2.10],[1803.4,2.33],[1803.6,2.27],[1803.9,2.22],[1804.2,2.24],[1804.4,2.20],[1804.7,2.17],[1805.0,2.14],[1805.3,2.18],[1805.6,2.20],[1806.0,2.11],[1806.3,2.07],[1806.6,2.02],[1806.9,1.99],[1807.3,1.94],[1807.6,1.85],[1807.8,1.76],[1808.0,1.78],[1808.3,1.82],[1808.6,1.80],[1809.0,1.84],[1809.3,1.82],[1809.6,1.81],[1810.0,1.83],[1810.3,1.80],[1810.6,1.85],[1811.0,1.81],[1811.3,1.83],[1811.6,1.84],[1812.0,1.80],[1812.3,1.81],[1812.6,1.82],[1813.0,1.83],[1813.3,1.91],[1813.6,2.05],[1813.8,2.31],[1814.0,2.27],[1814.2,2.17],[1814.4,1.90],[1814.6,2.10],[1815.0,2.15],[1815.3,2.12],[1815.6,2.21],[1816.0,2.12],[1816.3,2.16],[1816.5,2.19],[1816.8,2.20],[1817.0,2.14],[1817.2,2.10],[1817.5,2.07],[1817.7,2.05],[1818.0,2.05],[1818.3,2.03],[1818.6,2.02],[1819.0,2.01],[1819.2,2.00],[1819.5,1.98],[1819.7,1.97],[1820.0,1.95],[1820.4,1.94],[1820.8,1.90],[1821.0,1.88],[1821.3,1.85],[1821.6,1.83],[1821.8,1.82],[1822.2,1.79],[1822.5,1.76],[1822.8,1.74],[1823.1,1.72],[1823.4,1.71],[1823.7,1.66],[1824.0,1.61],[1824.3,1.58],[1824.6,1.55],[1825.0,1.50],[1825.3,1.47],[1825.5,1.45],[1826.0,1.43],[1826.4,1.41],[1827.0,1.39],[1827.6,1.38],[1828.0,1.36],[1828.3,1.35],[1828.7,1.34],[1829.1,1.32],[1829.6,1.28],[1830.0,1.26],[1830.4,1.30],[1830.8,1.33],[1831.2,1.38],[1831.6,1.35],[1832.0,1.40],[1832.5,1.37],[1833.0,1.36],[1833.5,1.34],[1834.0,1.34],[1834.5,1.33],[1835.0,1.33],[1835.5,1.31],[1836.0,1.32],[1836.5,1.33],[1837.0,1.34],[1837.5,1.33],[1838.0,1.32],[1838.5,1.34],[1839.0,1.35],[1839.5,1.33],[1840.0,1.32],[1840.5,1.34],[1841.0,1.33],[1841.5,1.31],[1842.0,1.30],[1842.5,1.31],[1843.0,1.31],[1843.5,1.30],[1844.0,1.29],[1844.5,1.28],[1845.0,1.27],[1845.5,1.28],[1846.0,1.30],[1846.5,1.33],[1847.0,1.39],[1847.5,1.45],[1847.8,1.52],[1848.0,1.60],[1848.2,2.02],[1848.4,1.97],[1848.6,1.87],[1848.9,1.79],[1849.2,1.77],[1849.5,1.75],[1850.0,1.72],[1850.4,1.70],[1850.8,1.69],[1851.2,1.70],[1851.7,1.68],[1852.1,1.64],[1852.6,1.59],[1852.9,1.28],[1853.2,1.45],[1853.6,1.55],[1854.0,1.50],[1854.5,1.58],[1855.0,1.52],[1855.5,1.48],[1856.0,1.50],[1856.5,1.47],[1857.0,1.49],[1857.5,1.46],[1858.0,1.48],[1858.5,1.50],[1859.0,1.45],[1859.5,1.51],[1860.0,1.47],[1860.5,1.49],[1861.0,1.46],[1861.5,1.50],[1862.0,1.48],[1862.5,1.47],[1863.0,1.49],[1863.5,1.51],[1864.0,1.48],[1864.5,1.50],[1865.0,1.47],[1865.5,1.49],[1866.0,1.50],[1866.5,1.48],[1867.0,1.47],[1867.5,1.49],[1868.0,1.48],[1868.5,1.46],[1869.0,1.47],[1869.5,1.45],[1870.0,1.47],[1870.4,1.40],[1870.6,1.62],[1870.8,1.72],[1871.0,1.77],[1871.3,1.74],[1871.6,1.70],[1872.0,1.72],[1872.4,1.68],[1872.8,1.66],[1873.2,1.67],[1873.6,1.64],[1874.0,1.62],[1874.5,1.61],[1875.0,1.58],[1875.5,1.56],[1876.0,1.55],[1876.5,1.53],[1877.0,1.52],[1877.5,1.51],[1878.0,1.48],[1878.5,1.45],[1879.0,1.42],[1879.5,1.40],[1880.0,1.39],[1880.5,1.37],[1881.0,1.35],[1881.5,1.33],[1882.0,1.32],[1882.5,1.31],[1883.0,1.30],[1883.6,1.30],[1884.0,1.28],[1884.5,1.27],[1885.0,1.25],[1885.5,1.24],[1886.0,1.23],[1886.5,1.22],[1887.0,1.20],[1887.5,1.21],[1888.0,1.19],[1888.5,1.17],[1889.0,1.16],[1889.5,1.15],[1890.0,1.14],[1890.5,1.13],[1891.0,1.12],[1891.5,1.13],[1892.0,1.11],[1892.5,1.10],[1893.0,1.11],[1893.5,1.12],[1894.0,1.10],[1894.5,1.09],[1895.0,1.10],[1895.5,1.11],[1896.0,1.10],[1896.5,1.08],[1897.0,1.07],[1897.5,1.08],[1898.0,1.09],[1898.5,1.08],[1899.0,1.10],[1899.5,1.11],[1900.0,1.12],[1900.5,1.11],[1901.0,1.10],[1901.5,1.09],[1902.0,1.10],[1902.5,1.11],[1903.0,1.10],[1903.5,1.11],[1904.0,1.10],[1904.5,1.11],[1905.0,1.10],[1905.5,1.11],[1906.0,1.12],[1906.5,1.11],[1907.0,1.12],[1907.5,1.13],[1908.0,1.12],[1908.5,1.13],[1909.0,1.14],[1909.5,1.13],[1910.0,1.14],[1910.5,1.15],[1911.0,1.14]];

const seriesNames=["AUST","BELG","BRIT","DENM","GERM","ITAL","NETH","NORW","SWED","FRAN"];
const seriesData=[AUST,BELG,BRIT,DENM,GERM,ITAL,NETH,NORW,SWED,FRAN];
const seriesColors=["#000000","#FF0000","#00CD00","#0000FF","#00FFFF","#FF00FF","#FFFF00","#BEBEBE","#000000","#FF0000"];
const xTicks=[1800,1855,1910];
const yTicks=[1.0,1.5,2.0,2.5,3.0];
const yLabel="Log Bond Yield";

// ---- layout ----
const svg=d3.select("#chart");
const box={left:99.5,top:5.5,right:799.5,bottom:599.5};
const x=d3.scaleLinear().domain([1800,1910]).range([123.7,733]);
const y=d3.scaleLinear().domain([1,3]).range([550.7,87.3]);

// series: line + open circles
const line=d3.line().x(d=>x(d[0])).y(d=>y(d[1]));
const plot=svg.append("g");
seriesData.forEach((data,i)=>{
  const g=plot.append("g");
  g.append("path").attr("d",line(data)).attr("fill","none")
    .attr("stroke",seriesColors[i]).attr("stroke-width",1.6);
  g.selectAll("circle").data(data).join("circle")
    .attr("cx",d=>x(d[0])).attr("cy",d=>y(d[1])).attr("r",2.8)
    .attr("fill","none").attr("stroke",seriesColors[i]).attr("stroke-width",1.25);
});

// frame
svg.append("rect").attr("x",box.left).attr("y",box.top)
  .attr("width",box.right-box.left).attr("height",box.bottom-box.top)
  .attr("fill","none").attr("stroke","#000").attr("stroke-width",1);

// x axis
const gx=svg.append("g").attr("transform",`translate(0,${box.bottom})`)
  .call(d3.axisBottom(x).tickValues(xTicks).tickSize(12).tickPadding(19).tickFormat(d3.format("d")));
gx.select(".domain").attr("stroke","#000");
gx.selectAll(".tick line").attr("stroke","#000");
gx.selectAll("text").attr("font-size",15).attr("fill","#000").attr("font-family",null);

// y axis
const gy=svg.append("g").attr("transform",`translate(${box.left},0)`)
  .call(d3.axisLeft(y).tickValues(yTicks).tickSize(12).tickFormat(d3.format(".1f")));
gy.select(".domain").attr("stroke","#000");
gy.selectAll(".tick line").attr("stroke","#000");
gy.selectAll(".tick text").attr("x",null).attr("dy",null).attr("y",null)
  .attr("text-anchor","middle").attr("transform","translate(-28,0) rotate(-90)")
  .attr("font-size",15).attr("fill","#000").attr("font-family",null);

// y label
svg.append("text").attr("transform",`translate(29,${(box.top+box.bottom)/2}) rotate(-90)`)
  .attr("text-anchor","middle").attr("font-size",18.5).text(yLabel);

// legend
const lg=svg.append("g");
lg.append("rect").attr("x",659.5).attr("y",5.5).attr("width",200).attr("height",252)
  .attr("fill","#fff").attr("stroke","#000").attr("stroke-width",1);
seriesNames.forEach((n,i)=>{
  const cy=28+i*23;
  lg.append("circle").attr("cx",676.7).attr("cy",cy).attr("r",3.2)
    .attr("fill","none").attr("stroke",seriesColors[i]).attr("stroke-width",1);
  lg.append("text").attr("x",694).attr("y",cy+6.5).attr("font-size",18).text(n);
});
</script></body></html>
